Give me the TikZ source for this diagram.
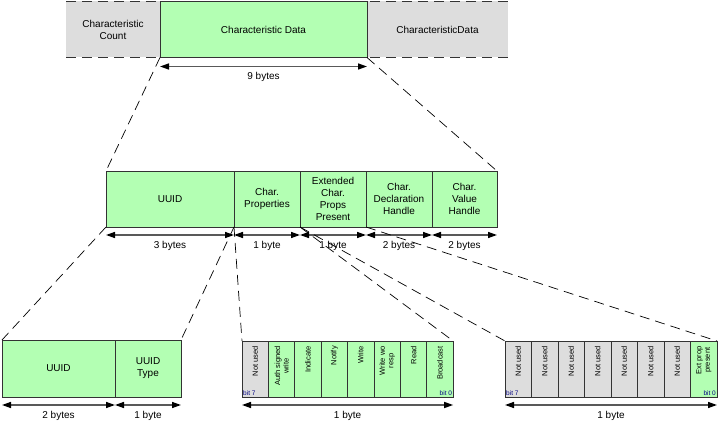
\documentclass[tikz,border=0pt]{standalone}
\usepackage{fontspec}
\setmainfont{Liberation Sans}
\usetikzlibrary{arrows.meta}
\definecolor{lgreen}{HTML}{B3FFB3}
\definecolor{lgray}{HTML}{DDDDDD}
\definecolor{edgec}{HTML}{333333}
\begin{document}
\begin{tikzpicture}[x=1pt,y=-1pt,
  every node/.style={font=\fontsize{10}{12}\selectfont, text=black},
  cell/.style={draw=edgec, line width=0.8pt, minimum height=56pt, inner sep=0pt, outer sep=0pt, anchor=north west, align=center},
  gcell/.style={cell, fill=lgreen},
  ncell/.style={cell, fill=lgray},
  band/.style={fill=lgray, minimum height=56pt, inner sep=0pt, outer sep=0pt, anchor=north west, align=center},
  banddash/.style={draw=edgec, line width=1.2pt, dash pattern=on 10pt off 6pt},
  conn/.style={draw=black, line width=0.7pt, dash pattern=on 10pt off 6pt},
  dim/.style={draw=gray!70!black, line width=1.4pt, {Triangle[length=9pt,width=6pt,color=black]}-{Triangle[length=9pt,width=6pt,color=black]}},
  dimlabel/.style={midway, below=2pt},
  bittext/.style={rotate=90, anchor=east, font=\fontsize{7.5}{8.5}\selectfont, align=center, inner sep=0pt},
  bitnum/.style={font=\fontsize{6.5}{6.5}\selectfont, text=blue!50!black, inner sep=1pt}
]
\useasboundingbox (0,0) rectangle (720,430);

% ---- top row
\node[band, minimum width=94pt] (count) at (66,1.5) {Characteristic\\Count};
\node[band, minimum width=141pt] (nextdata) at (367,1.5) {CharacteristicData};
\draw[banddash] (count.north west) -- (nextdata.north east);
\draw[banddash] (count.south west) -- (nextdata.south east);
\node[gcell, minimum width=207pt] (chardata) at (count.north east) {Characteristic Data};
\draw[dim] ([yshift=-9pt]chardata.south west) -- ([yshift=-9pt]chardata.south east) node[dimlabel] {9 bytes};

% ---- middle row
\node[gcell, minimum width=128pt] (uuid) at (106,171) {UUID};
\node[gcell, minimum width=66pt] (props) at (uuid.north east) {Char.\\Properties};
\node[gcell, minimum width=66pt] (ext) at (props.north east) {Extended\\Char.\\Props\\Present};
\node[gcell, minimum width=66pt] (decl) at (ext.north east) {Char.\\Declaration\\Handle};
\node[gcell, minimum width=65pt] (valh) at (decl.north east) {Char.\\Value\\Handle};
\draw[dim] ([yshift=-8pt]uuid.south west) -- ([yshift=-8pt]uuid.south east) node[dimlabel] {3 bytes};
\draw[dim] ([yshift=-8pt]props.south west) -- ([yshift=-8pt]props.south east) node[dimlabel] {1 byte};
\draw[dim] ([yshift=-8pt]ext.south west) -- ([yshift=-8pt]ext.south east) node[dimlabel] {1 byte};
\draw[dim] ([yshift=-8pt]decl.south west) -- ([yshift=-8pt]decl.south east) node[dimlabel] {2 bytes};
\draw[dim] ([yshift=-8pt]valh.south west) -- ([yshift=-8pt]valh.south east) node[dimlabel] {2 bytes};

% ---- bottom left
\node[gcell, minimum width=113pt, minimum height=57pt] (uuidb) at (2,340) {UUID};
\node[gcell, minimum width=66pt, minimum height=57pt] (uuidtype) at (uuidb.north east) {UUID\\Type};
\draw[dim] ([yshift=-8pt]uuidb.south west) -- ([yshift=-8pt]uuidb.south east) node[dimlabel] {2 bytes};
\draw[dim] ([yshift=-8pt]uuidtype.south west) -- ([yshift=-8pt]uuidtype.south east) node[dimlabel] {1 byte};

% ---- properties bits
\node[ncell, minimum width=26.4pt] (p1) at (242,341) {};
\foreach \i/\j in {1/2,2/3,3/4,4/5,5/6,6/7,7/8}
  \node[gcell, minimum width=26.4pt] (p\j) at (p\i.north east) {};
\foreach \i/\t in {1/Not used, 2/{Auth signed\\write}, 3/Indicate, 4/Notify, 5/Write, 6/{Write wo\\resp}, 7/Read, 8/Broadcast}
  \node[bittext] at ([yshift=-5pt]p\i.north) {\t};
\node[bitnum, anchor=south west] (p7lbl) at (p1.south west) {bit 7};
\node[bitnum, anchor=south east] (p0lbl) at (p8.south east) {bit 0};
\draw[dim] ([yshift=-8pt]p1.south west) -- ([yshift=-8pt]p8.south east) node[dimlabel] {1 byte};

% ---- extended props bits
\node[ncell, minimum width=26.5pt] (q1) at (505,341) {};
\foreach \i/\j in {1/2,2/3,3/4,4/5,5/6,6/7}
  \node[ncell, minimum width=26.5pt] (q\j) at (q\i.north east) {};
\node[gcell, minimum width=26.5pt] (q8) at (q7.north east) {};
\foreach \i in {1,...,7}
  \node[bittext] at ([yshift=-5pt]q\i.north) {Not used};
\node[bittext] at ([yshift=-5pt]q8.north) {Ext prop\\present};
\node[bitnum, anchor=south west] (q7lbl) at (q1.south west) {bit 7};
\node[bitnum, anchor=south east] (q0lbl) at (q8.south east) {bit 0};
\draw[dim] ([yshift=-8pt]q1.south west) -- ([yshift=-8pt]q8.south east) node[dimlabel] {1 byte};

% ---- dashed zoom connectors
\draw[conn] (chardata.south west) -- (uuid.north west);
\draw[conn] (chardata.south east) -- (valh.north east);
\draw[conn] (uuid.south west) -- (uuidb.north west);
\draw[conn] (uuid.south east) -- (uuidtype.north east);
\draw[conn] (props.south west) -- (p1.north west);
\draw[conn] (props.south east) -- (p8.north east);
\draw[conn] (ext.south west) -- (q1.north west);
\draw[conn] (ext.south east) -- (q8.north east);
\end{tikzpicture}
\end{document}
